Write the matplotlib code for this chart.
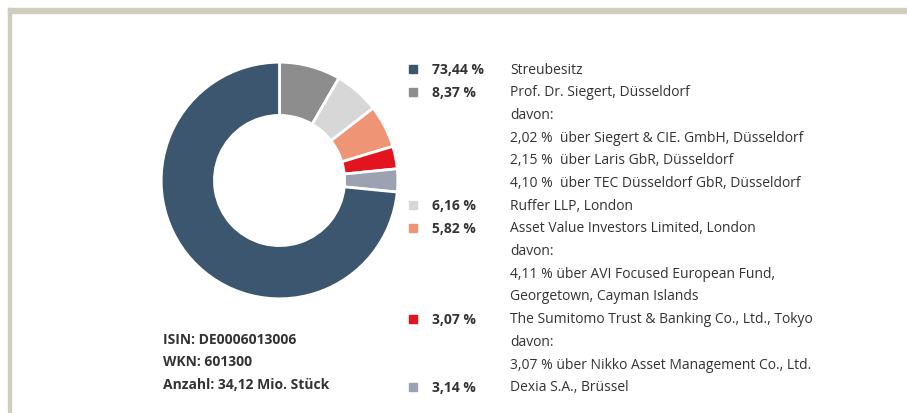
import matplotlib.pyplot as plt
from matplotlib.patches import Rectangle

# Aktionärsstruktur
shares = [8.37, 6.16, 5.82, 3.07, 3.14, 73.44]
colors = ["#8d8d8d", "#d7d7d7", "#ef9474", "#e2141f", "#9da2b3", "#3c566f"]

legend_pcts = ["73,44 %", "8,37 %", "6,16 %", "5,82 %", "3,07 %", "3,14 %"]
legend_colors = ["#3c566f", "#8d8d8d", "#d7d7d7", "#ef9474", "#e2141f", "#9da2b3"]
legend_names = [
    "Streubesitz",
    "Prof. Dr. Siegert, Düsseldorf",
    "Ruffer LLP, London",
    "Asset Value Investors Limited, London",
    "The Sumitomo Trust & Banking Co., Ltd., Tokyo",
    "Dexia S.A., Brüssel",
]
legend_details = [
    [],
    ["davon:",
     "2,02 %  über Siegert & CIE. GmbH, Düsseldorf",
     "2,15 %  über Laris GbR, Düsseldorf",
     "4,10 %  über TEC Düsseldorf GbR, Düsseldorf"],
    [],
    ["davon:",
     "4,11 % über AVI Focused European Fund,",
     "Georgetown, Cayman Islands"],
    ["davon:",
     "3,07 % über Nikko Asset Management Co., Ltd."],
    [],
]
info_lines = ["ISIN: DE0006013006", "WKN: 601300", "Anzahl: 34,12 Mio. Stück"]

W, H = 907, 414
plt.rcParams["font.family"] = ["Open Sans", "DejaVu Sans"]
fig = plt.figure(figsize=(W / 100, H / 100), dpi=100)
fig.patch.set_facecolor("white")

def fx(x):
    return x / W

def fy(y):
    return 1 - y / H

# frame
frame_col = "#d0cdc0"
fig.patches.append(Rectangle((fx(8), fy(14)), fx(W - 8), 5 / H, transform=fig.transFigure,
                             color=frame_col, zorder=0))
fig.patches.append(Rectangle((fx(8), 0), 3 / W, fy(9), transform=fig.transFigure,
                             color=frame_col, zorder=0))

# donut
ax = fig.add_axes([fx(160), fy(301), 239 / W, 239 / H])
ax.pie(shares, colors=colors, startangle=90, counterclock=False,
       wedgeprops=dict(width=0.45, edgecolor="white", linewidth=2))
ax.set_xlim(-1.01, 1.01)
ax.set_ylim(-1.01, 1.01)
ax.set_aspect("equal")

# legend
txt = "#333333"
fs = 10
y = 70
step = 22.7
for pct, col, name, details in zip(legend_pcts, legend_colors, legend_names, legend_details):
    fig.patches.append(Rectangle((fx(409), fy(y + 4)), 8 / W, 8 / H,
                                 transform=fig.transFigure, color=col))
    fig.text(fx(432), fy(y), pct, fontsize=fs, fontweight="bold", color=txt, va="center")
    fig.text(fx(510), fy(y), name, fontsize=fs, color=txt, va="center")
    y += step
    for d in details:
        fig.text(fx(510), fy(y), d, fontsize=fs, color=txt, va="center")
        y += step

# info block
for i, line in enumerate(info_lines):
    fig.text(fx(163), fy(340 + i * 22.5), line, fontsize=fs, fontweight="bold",
             color=txt, va="center")

fig.savefig("out.png", dpi=100)
